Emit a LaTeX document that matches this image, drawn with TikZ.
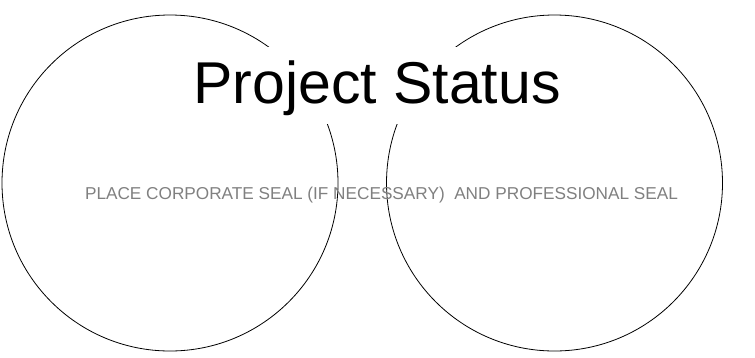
\documentclass[tikz,border=0pt]{standalone}
\usepackage{fontspec}
\setmainfont{Liberation Sans}
\usepackage{tikz}
\usetikzlibrary{positioning}

\definecolor{sealgray}{HTML}{808080}

\begin{document}
\begin{tikzpicture}[x=1pt,y=-1pt,
                    seal/.style={circle,draw=black,line width=0.8pt,minimum size=336pt,inner sep=0pt},
                    heading/.style={fill=white,inner sep=0pt,anchor=base,font=\fontsize{59}{59}\selectfont,
                                    text height=56pt,text depth=21pt},
                    remark/.style={text=sealgray,inner sep=0pt,anchor=base,font=\fontsize{17.2}{17.2}\selectfont}]
    \useasboundingbox (0,0) rectangle (755,357);
    \node [seal] (leftseal)  at (170,183)   {};
    \node [seal] (rightseal) at (554.5,183) {};
    \node [heading] (status) at (377,103) {Project Status};
    \node [remark]  (place)  at (381.5,199.5) {PLACE CORPORATE SEAL (IF NECESSARY)\ \ AND PROFESSIONAL SEAL};
\end{tikzpicture}
\end{document}
